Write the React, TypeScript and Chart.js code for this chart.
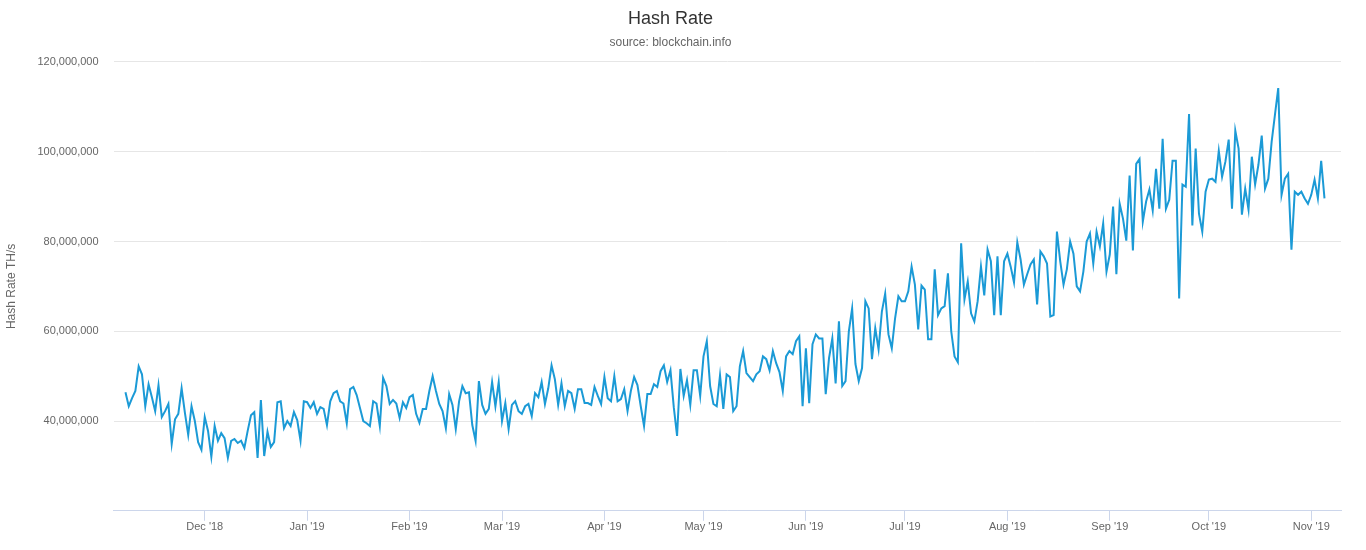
import React, { useEffect, useRef } from "react";
import { Chart, registerables } from "chart.js";
Chart.register(...registerables);

const START_DATE = "2018-11-07";
const MONTH_NAMES = ["Jan","Feb","Mar","Apr","May","Jun","Jul","Aug","Sep","Oct","Nov","Dec"];

// Hash rate in millions TH/s, daily
const nov18 = [46.4,43.3,45.1,46.7,52.2,50.4,43.3,48.2,45.3,42.2,48,40.9,42.2,43.8,34.9,40.4,41.6,47.3,41.8,36.9,43.3,40,35.3,33.6];
const dec18 = [40.9,37.8,32,38.9,35.6,37.3,36.2,31.8,35.6,36,35.1,35.6,34,37.8,41.3,42,31.8,44.7,32.2,37.6,34.2,35.3,44.2,44.4,38.4,40,38.9,42,40.2,35.6,44.4];
const jan19 = [44.2,42.9,44.2,41.6,43.1,42.7,39.1,44.4,46.2,46.7,44.4,43.9,39.5,47.1,47.6,45.8,42.9,40,39.5,38.9,44.4,43.9,38.9,49.6,47.8,43.8,44.7,43.9,40.7,44.2,42.9];
const feb19 = [45.3,45.8,41.6,39.6,42.7,42.7,46.7,50,46.7,43.8,42.2,38.4,46,43.6,38.2,44.4,47.8,46.2,46.4,39.1,35.6,48.9,43.6,41.6,42.7,48.7,43.3,48.7];
const mar19 = [40,44,38.2,43.6,44.4,42.2,41.6,43.3,43.8,41.1,46.2,45.3,48.7,43.8,47.3,52.4,49.3,43.6,48.4,43.3,46.7,46.2,42.7,47.1,47.1,44,44,43.6,47.6,45.6,43.8];
const apr19 = [49.8,45.1,44.4,50,44.4,44.9,47.1,42.2,46.7,49.8,48,43.3,38.9,46,46,48.2,47.6,51.1,52.4,48.7,51.3,43.1,36.7,51.6,45.6,49.1,43.6,51.3,51.3,45.6];
const may19 = [54.4,57.8,47.8,43.8,43.3,50.2,42.7,50.4,49.8,42.2,43.3,52.2,55.6,50.7,49.8,48.9,50.4,51.1,54.4,53.8,51.3,55.6,52.9,50.9,46.7,54.4,55.6,54.9,57.8,58.9,43.3];
const jun19 = [56.2,44,57.1,59.3,58.4,58.4,46,54,58.4,48.4,62.2,47.8,48.9,60,65.1,52.7,48.9,51.8,66.7,65.1,53.8,60.7,56,64.4,68.4,59.3,56.2,62.9,67.8,66.7];
const jul19 = [66.7,68.9,74.4,70.4,60.4,70.2,69.3,58.2,58.2,73.8,63.6,65.1,65.6,72.9,60,54.4,53.1,79.6,67.1,71.1,64,62.2,66.7,74.4,68,78.2,75.6,63.6,76.7,63.6,75.6];
const aug19 = [77.3,74.4,70.9,79.8,76,70.4,72.7,74.9,76,66,77.8,76.7,75.1,63.3,63.6,82.2,75.6,70.4,73.8,80,77.3,70,68.9,73.3,80,81.8,75.1,82.2,78.9,84,73.3];
const sep19 = [77.1,87.8,72.7,88.4,85.1,80.2,94.7,78,97.3,98.4,84.4,88.9,91.6,86.9,96.2,87.3,102.9,87.3,89.3,98,98,67.3,92.7,92.2,108.4,83.6,100.7,86.2,82.2,91.1];
const oct19 = [93.8,94,93.3,100.2,94.4,97.8,102.7,87.3,104.7,100.7,86,91.8,87.1,98.9,92.7,97.1,103.6,91.8,94,102.2,108.2,114.2,90.4,94,95.1,78.2,91.1,90.4,91.1,89.6,88.4];
const nov19 = [90.4,93.8,89.6,98,89.6];

const hashRate = [...nov18,...dec18,...jan19,...feb19,...mar19,...apr19,...may19,...jun19,...jul19,...aug19,...sep19,...oct19,...nov19].map(v => v * 1e6);

const DAY = 86400000;
const t0 = new Date(START_DATE + "T00:00:00Z").getTime();
const points = hashRate.map((v, i) => ({ x: i, y: v }));
const monthTicks: number[] = [];
for (let i = 0; i < 372; i++) {
  if (new Date(t0 + i * DAY).getUTCDate() === 1) monthTicks.push(i);
}

export default function App() {
  const ref = useRef<HTMLCanvasElement>(null);
  useEffect(() => {
    const font = "'Liberation Sans', Arial, sans-serif";
    const chart = new Chart(ref.current!, {
      type: "line",
      data: {
        datasets: [{
          data: points,
          borderColor: "#1b9ad6",
          borderWidth: 2,
          pointRadius: 0,
          tension: 0,
          fill: false,
        }],
      },
      options: {
        animation: false,
        responsive: false,
        parsing: false,
        layout: { padding: { left: 0, right: 25, top: 2, bottom: 16 } },
        plugins: {
          legend: { display: false },
          tooltip: { enabled: false },
          title: { display: true, text: "Hash Rate", color: "#333333", font: { family: font, size: 18, weight: "normal" }, padding: { top: 6, bottom: 6 } },
          subtitle: { display: true, text: "source: blockchain.info", color: "#666666", font: { family: font, size: 12 }, padding: { bottom: 12 } },
        },
        scales: {
          x: {
            type: "linear",
            min: -3.6,
            max: 368,
            afterBuildTicks: (axis: any) => { axis.ticks = monthTicks.map(v => ({ value: v })); },
            grid: { drawOnChartArea: false, drawTicks: true, tickLength: 10, color: "#ccd6eb" },
            border: { color: "#ccd6eb" },
            ticks: {
              autoSkip: false,
              maxRotation: 0,
              color: "#666666",
              font: { family: font, size: 11 },
              padding: 0,
              callback: (v: any) => {
                const d = new Date(t0 + Number(v) * DAY);
                return MONTH_NAMES[d.getUTCMonth()] + " '" + String(d.getUTCFullYear()).slice(2);
              },
            },
          },
          y: {
            min: 20e6,
            max: 120e6,
            grid: { color: "#e6e6e6", drawTicks: false },
            border: { display: false },
            title: { display: true, text: "Hash Rate TH/s", color: "#666666", font: { family: font, size: 12 } },
            ticks: {
              stepSize: 20e6,
              color: "#666666",
              padding: 15,
              font: { family: font, size: 11 },
              callback: (v: any) => (v === 20e6 ? "" : Number(v).toLocaleString("en-US")),
            },
          },
        },
      },
    });
    return () => chart.destroy();
  }, []);
  return (
    <div style={{ position: "absolute", left: 0, top: 0, width: 1366, height: 550, background: "#fff" }}>
      <canvas ref={ref} width={1366} height={550} style={{ width: 1366, height: 550 }} />
    </div>
  );
}
